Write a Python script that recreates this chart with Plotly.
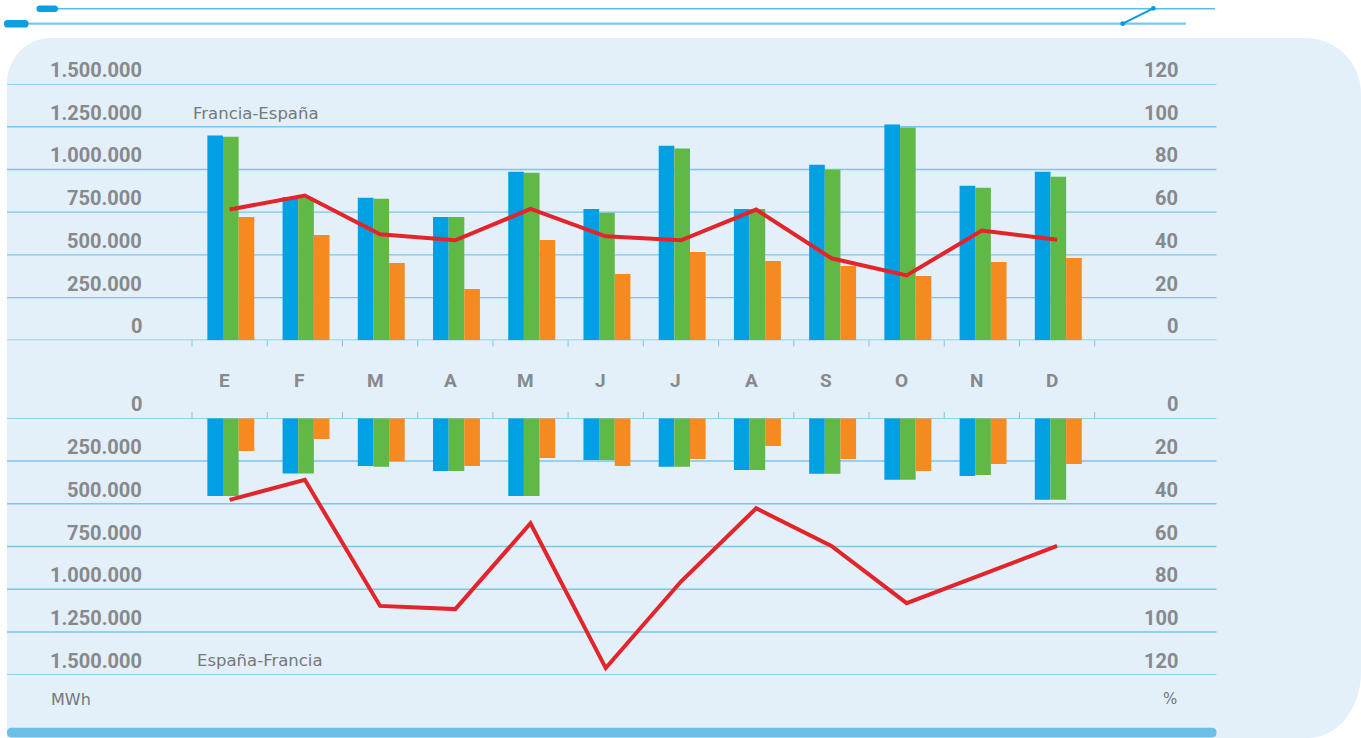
import plotly.graph_objects as go

# ---------------- data ----------------
months = ["E", "F", "M", "A", "M", "J", "J", "A", "S", "O", "N", "D"]

# Francia-España (MWh)
fr_es_blue = [1198000, 838000, 834000, 722000, 987000, 769000, 1139000, 769000, 1028000, 1263000, 904000, 987000]
fr_es_green = [1192000, 835000, 828000, 722000, 981000, 746000, 1122000, 769000, 998000, 1245000, 893000, 957000]
fr_es_orange = [722000, 617000, 452000, 300000, 587000, 388000, 517000, 464000, 435000, 376000, 458000, 482000]
fr_es_pct = [61.2, 67.8, 49.6, 46.8, 61.5, 48.7, 46.8, 61.2, 38.4, 30.4, 51.4, 47.1]

# España-Francia (MWh)
es_fr_blue = [454000, 323000, 279000, 308000, 454000, 244000, 284000, 302000, 325000, 360000, 337000, 477000]
es_fr_green = [454000, 323000, 284000, 308000, 454000, 244000, 284000, 302000, 325000, 360000, 331000, 477000]
es_fr_orange = [191000, 121000, 253000, 279000, 232000, 279000, 238000, 162000, 238000, 308000, 267000, 267000]
es_fr_pct = [38.2, 28.8, 87.8, 89.3, 49.1, 116.9, 76.4, 42.1, 59.7, 86.5, 73.2, 59.7]

mwh_ticks = [0, 250000, 500000, 750000, 1000000, 1250000, 1500000]
mwh_labels = ["0", "250.000", "500.000", "750.000", "1.000.000", "1.250.000", "1.500.000"]
pct_ticks = [0, 20, 40, 60, 80, 100, 120]
pct_labels = ["0", "20", "40", "60", "80", "100", "120"]

# ---------------- style ----------------
W, H = 1361, 738
BLUE = "#00a0e2"
GREEN = "#60b946"
ORANGE = "#f58b20"
RED = "#e3242b"
GRID = "#7ac6ec"
PANEL = "#e3eff9"
GRAY = "#87898b"
TXT = "#75777a"
FONT = "Roboto"
FONT_REG = "DejaVu Sans"


def px(x):
    return x / W


def py(y):
    return 1 - y / H


def P(x, y):
    return f"{px(x):.5f},{py(y):.5f}"


def rrect(x0, y0, x1, y1, r):
    return (f"M{P(x0 + r, y0)} L{P(x1 - r, y0)} Q{P(x1, y0)} {P(x1, y0 + r)} "
            f"L{P(x1, y1 - r)} Q{P(x1, y1)} {P(x1 - r, y1)} L{P(x0 + r, y1)} "
            f"Q{P(x0, y1)} {P(x0, y1 - r)} L{P(x0, y0 + r)} Q{P(x0, y0)} {P(x0 + r, y0)} Z")


# x axis mapping: category boundary -0.5 at px 192, 11.5 at px 1094.7
x_left_px, x_right_px = 192.0, 1094.7
unit = (x_right_px - x_left_px) / 12
x_range = [-0.5 - x_left_px / unit, 11.5 + (W - x_right_px) / unit]

top_dom = [py(340.3), py(84.0)]
bot_dom = [py(674.7), py(418.3)]

idx = list(range(len(months)))
bw = 0.208
offs = [-0.296, -0.088, 0.120]

fig = go.Figure()
for vals, col, off in zip([fr_es_blue, fr_es_green, fr_es_orange], [BLUE, GREEN, ORANGE], offs):
    fig.add_trace(go.Bar(x=idx, y=vals, width=bw, offset=off, marker=dict(color=col, line=dict(width=0)),
                         xaxis="x", yaxis="y", showlegend=False))
for vals, col, off in zip([es_fr_blue, es_fr_green, es_fr_orange], [BLUE, GREEN, ORANGE], offs):
    fig.add_trace(go.Bar(x=idx, y=vals, width=bw, offset=off, marker=dict(color=col, line=dict(width=0)),
                         xaxis="x", yaxis="y3", showlegend=False))
fig.add_trace(go.Scatter(x=idx, y=fr_es_pct, mode="lines", line=dict(color=RED, width=4),
                         xaxis="x", yaxis="y2", showlegend=False))
fig.add_trace(go.Scatter(x=idx, y=es_fr_pct, mode="lines", line=dict(color=RED, width=4),
                         xaxis="x", yaxis="y4", showlegend=False))

shapes = []
# background panel
panel = (f"M{P(7, 738)} L{P(7, 84)} C{P(7, 58)} {P(26, 38)} {P(52, 38)} "
         f"L{P(1305, 38)} C{P(1336, 38)} {P(1361, 62)} {P(1361, 95)} "
         f"L{P(1361, 672)} C{P(1361, 708)} {P(1338, 738)} {P(1308, 738)} Z")
shapes.append(dict(type="path", path=panel, xref="paper", yref="paper",
                   fillcolor=PANEL, line=dict(width=0), layer="below"))
# top decoration
shapes.append(dict(type="line", xref="paper", yref="paper", x0=px(48), x1=px(1215), y0=py(8.7), y1=py(8.7),
                   line=dict(color="#5cbbe8", width=1.6), layer="below"))
shapes.append(dict(type="line", xref="paper", yref="paper", x0=px(20), x1=px(1186), y0=py(23.7), y1=py(23.7),
                   line=dict(color="#79c6ec", width=2.2), layer="below"))
shapes.append(dict(type="path", xref="paper", yref="paper", path=rrect(36.5, 5.5, 58, 12, 3.2),
                   fillcolor="#0a9fe0", line=dict(width=0), layer="below"))
shapes.append(dict(type="path", xref="paper", yref="paper", path=rrect(4, 20, 28.5, 27.5, 3.6),
                   fillcolor="#0a9fe0", line=dict(width=0), layer="below"))
shapes.append(dict(type="line", xref="paper", yref="paper", x0=px(1122.7), x1=px(1153.3), y0=py(23.7), y1=py(8.3),
                   line=dict(color="#0a9ad9", width=2), layer="below"))
for (cx, cy) in [(1122.7, 23.7), (1153.3, 8.3)]:
    shapes.append(dict(type="circle", xref="paper", yref="paper", x0=px(cx - 2.4), x1=px(cx + 2.4),
                       y0=py(cy + 2.4), y1=py(cy - 2.4), fillcolor="#0a9ad9", line=dict(width=0), layer="below"))
# bottom bar
shapes.append(dict(type="path", xref="paper", yref="paper", path=rrect(7, 727.8, 1216.5, 737.4, 4.6),
                   fillcolor="#6bbfe9", line=dict(width=0), layer="below"))
# gridlines
for v in mwh_ticks:
    shapes.append(dict(type="line", xref="paper", yref="y", x0=px(7), x1=px(1216.5), y0=v, y1=v,
                       line=dict(color=GRID, width=1.4), layer="below"))
    shapes.append(dict(type="line", xref="paper", yref="y3", x0=px(7), x1=px(1216.5), y0=v, y1=v,
                       line=dict(color=GRID, width=1.4), layer="below"))
# category boundary ticks
for b in [i - 0.5 for i in range(len(months) + 1)]:
    shapes.append(dict(type="line", xref="x", yref="paper", x0=b, x1=b, y0=py(340.3), y1=py(346.5),
                       line=dict(color=GRID, width=1), layer="below"))
    shapes.append(dict(type="line", xref="x", yref="paper", x0=b, x1=b, y0=py(412), y1=py(418.3),
                       line=dict(color=GRID, width=1), layer="below"))

ann = []
bold = dict(family=FONT, size=20, color=GRAY)
for v, t in zip(mwh_ticks, mwh_labels):
    ann.append(dict(x=px(143.5), xref="paper", xanchor="right", y=v, yref="y", yanchor="middle", yshift=14,
                    text=f"<b>{t}</b>", showarrow=False, font=bold))
    ann.append(dict(x=px(143.5), xref="paper", xanchor="right", y=v, yref="y3", yanchor="middle", yshift=14,
                    text=f"<b>{t}</b>", showarrow=False, font=bold))
for v, t in zip(pct_ticks, pct_labels):
    ann.append(dict(x=px(1179.5), xref="paper", xanchor="right", y=v, yref="y2", yanchor="middle", yshift=14,
                    text=f"<b>{t}</b>", showarrow=False, font=bold))
    ann.append(dict(x=px(1179.5), xref="paper", xanchor="right", y=v, yref="y4", yanchor="middle", yshift=14,
                    text=f"<b>{t}</b>", showarrow=False, font=bold))
for i, m in enumerate(months):
    ann.append(dict(x=i, xref="x", xanchor="center", xshift=-5, y=py(380), yref="paper", yanchor="middle",
                    text=f"<b>{m}</b>", showarrow=False, font=dict(family=FONT, size=19, color=GRAY)))
reg = dict(family=FONT_REG, size=16.5, color=TXT)
ann.append(dict(x=px(191), xref="paper", xanchor="left", y=py(113), yref="paper", yanchor="middle",
                text="Francia-España", showarrow=False, font=reg))
ann.append(dict(x=px(195), xref="paper", xanchor="left", y=py(660), yref="paper", yanchor="middle",
                text="España-Francia", showarrow=False, font=reg))
ann.append(dict(x=px(49), xref="paper", xanchor="left", y=py(699), yref="paper", yanchor="middle",
                text="MWh", showarrow=False, font=dict(family=FONT_REG, size=16, color=TXT)))
ann.append(dict(x=px(1179), xref="paper", xanchor="right", y=py(699), yref="paper", yanchor="middle",
                text="%", showarrow=False, font=dict(family=FONT_REG, size=15, color=TXT)))

hidden = dict(visible=False, showgrid=False, zeroline=False, fixedrange=True)
fig.update_layout(
    width=W, height=H,
    margin=dict(l=0, r=0, t=0, b=0),
    paper_bgcolor="white",
    plot_bgcolor="rgba(0,0,0,0)",
    barmode="overlay",
    showlegend=False,
    xaxis=dict(range=x_range, domain=[0, 1], anchor="y", **hidden),
    yaxis=dict(range=[0, 1500000], domain=top_dom, anchor="x", **hidden),
    yaxis2=dict(range=[0, 120], overlaying="y", side="right", anchor="x", **hidden),
    yaxis3=dict(range=[1500000, 0], domain=bot_dom, anchor="x", **hidden),
    yaxis4=dict(range=[120, 0], overlaying="y3", side="right", anchor="x", **hidden),
    shapes=shapes,
    annotations=ann,
)

fig.write_html("out.html", config={"displayModeBar": False},
               post_script="document.body.style.margin='0';document.body.style.overflow='hidden';")
